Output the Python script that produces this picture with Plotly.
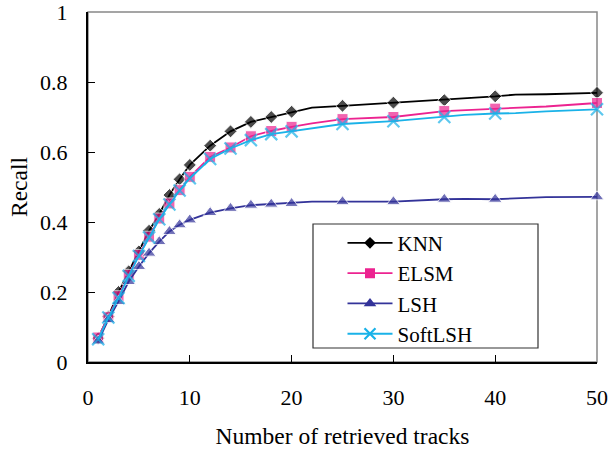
import plotly.graph_objects as go

# Number of retrieved tracks (points where the curves are sampled)
X = [1, 2, 3, 4, 5, 6, 7, 8, 9, 10, 12, 14, 16, 18, 20, 22, 25, 30, 35, 37, 40, 42, 45, 50]
# positions that carry a visible marker
MARKED_X = [1, 2, 3, 4, 5, 6, 7, 8, 9, 10, 12, 14, 16, 18, 20, 25, 30, 35, 40, 50]

KNN = [0.068, 0.130, 0.200, 0.259, 0.316, 0.375, 0.423, 0.477, 0.522, 0.563,
       0.618, 0.659, 0.686, 0.700, 0.715, 0.727, 0.732, 0.741, 0.748, 0.753,
       0.759, 0.764, 0.765, 0.769]
ELSM = [0.070, 0.128, 0.188, 0.249, 0.306, 0.358, 0.410, 0.453, 0.491, 0.529,
        0.586, 0.613, 0.645, 0.660, 0.672, 0.682, 0.694, 0.700, 0.717, 0.720,
        0.724, 0.727, 0.730, 0.740]
LSH = [0.060, 0.121, 0.173, 0.230, 0.273, 0.311, 0.344, 0.373, 0.392, 0.406,
       0.427, 0.439, 0.448, 0.451, 0.453, 0.458, 0.458, 0.458, 0.465, 0.466,
       0.465, 0.467, 0.471, 0.472]
SOFTLSH = [0.065, 0.127, 0.183, 0.246, 0.303, 0.356, 0.408, 0.450, 0.490, 0.525,
           0.580, 0.610, 0.634, 0.651, 0.659, 0.667, 0.680, 0.688, 0.700, 0.706,
           0.710, 0.711, 0.716, 0.722]

X_TICKS = [0, 10, 20, 30, 40, 50]
Y_TICKS = [0, 0.2, 0.4, 0.6, 0.8, 1]
Y_TICK_TEXT = ["0", "0.2", "0.4", "0.6", "0.8", "1"]

FONT = "Liberation Serif, Times New Roman, serif"

series = [
    ("KNN", KNN, "#000000", "diamond", 10, 0),
    ("ELSM", ELSM, "#EC2390", "square", 11, 0),
    ("LSH", LSH, "#333399", "triangle-up", 12, 0),
    ("SoftLSH", SOFTLSH, "#1AB2E8", "x-thin", 12, 2.2),
]

fig = go.Figure()
for name, ys, color, sym, size, lw in series:
    sizes = [size if x in MARKED_X else 0 for x in X]
    mk = dict(symbol=sym, size=sizes, color=color)
    if lw:
        mk["line"] = dict(color=color, width=lw)
    fig.add_trace(go.Scatter(
        x=X, y=ys, mode="lines+markers", name=name, showlegend=False,
        line=dict(color=color, width=1.8), marker=mk, cliponaxis=False,
    ))
for name, ys, color, sym, size, lw in series:
    mk = dict(symbol=sym, size=size - 1, color=color)
    if lw:
        mk["line"] = dict(color=color, width=lw)
    fig.add_trace(go.Scatter(
        x=[None], y=[None], mode="lines+markers", name=name,
        line=dict(color=color, width=1.8), marker=mk,
    ))

fig.update_layout(
    width=610, height=453,
    margin=dict(l=88, r=13, t=12, b=91, autoexpand=False),
    paper_bgcolor="white", plot_bgcolor="white",
    font=dict(family=FONT, size=22, color="black"),
    showlegend=True,
    legend=dict(x=0.50, y=0.398, xanchor="left", yanchor="top",
                bgcolor="rgba(0,0,0,0)", borderwidth=0, itemwidth=45,
                font=dict(family=FONT, size=21), tracegroupgap=0),
    shapes=[
        dict(type="rect", xref="paper", yref="paper", x0=0, x1=1, y0=0, y1=1,
             line=dict(color="#888888", width=1.5), layer="below"),
        dict(type="rect", xref="paper", yref="paper",
             x0=(313 - 88) / 509, x1=(538 - 88) / 509,
             y0=(362 - 348) / 350, y1=(362 - 224) / 350,
             line=dict(color="#333333", width=1.2), fillcolor="white", layer="below"),
    ],
)
fig.update_xaxes(
    range=[0, 50], tickvals=X_TICKS, ticks="inside", ticklen=7, tickwidth=1,
    tickcolor="black", showline=True, linecolor="black", linewidth=2,
    showgrid=False, zeroline=False, ticklabelstandoff=15,
    title=dict(text="Number of retrieved tracks", standoff=18,
               font=dict(family=FONT, size=23.5)),
)
fig.update_yaxes(
    range=[0, 1], tickvals=Y_TICKS, ticktext=Y_TICK_TEXT, ticks="inside",
    ticklen=7, tickwidth=1, tickcolor="black", showline=True, linecolor="black",
    linewidth=2, showgrid=False, zeroline=False, ticklabelstandoff=14,
    ticklabeloverflow="allow",
    title=dict(text="Recall", standoff=6, font=dict(family=FONT, size=23.5)),
)

fig.write_html("out.html", config={"displayModeBar": False},
               post_script="document.body.style.margin='0';")
